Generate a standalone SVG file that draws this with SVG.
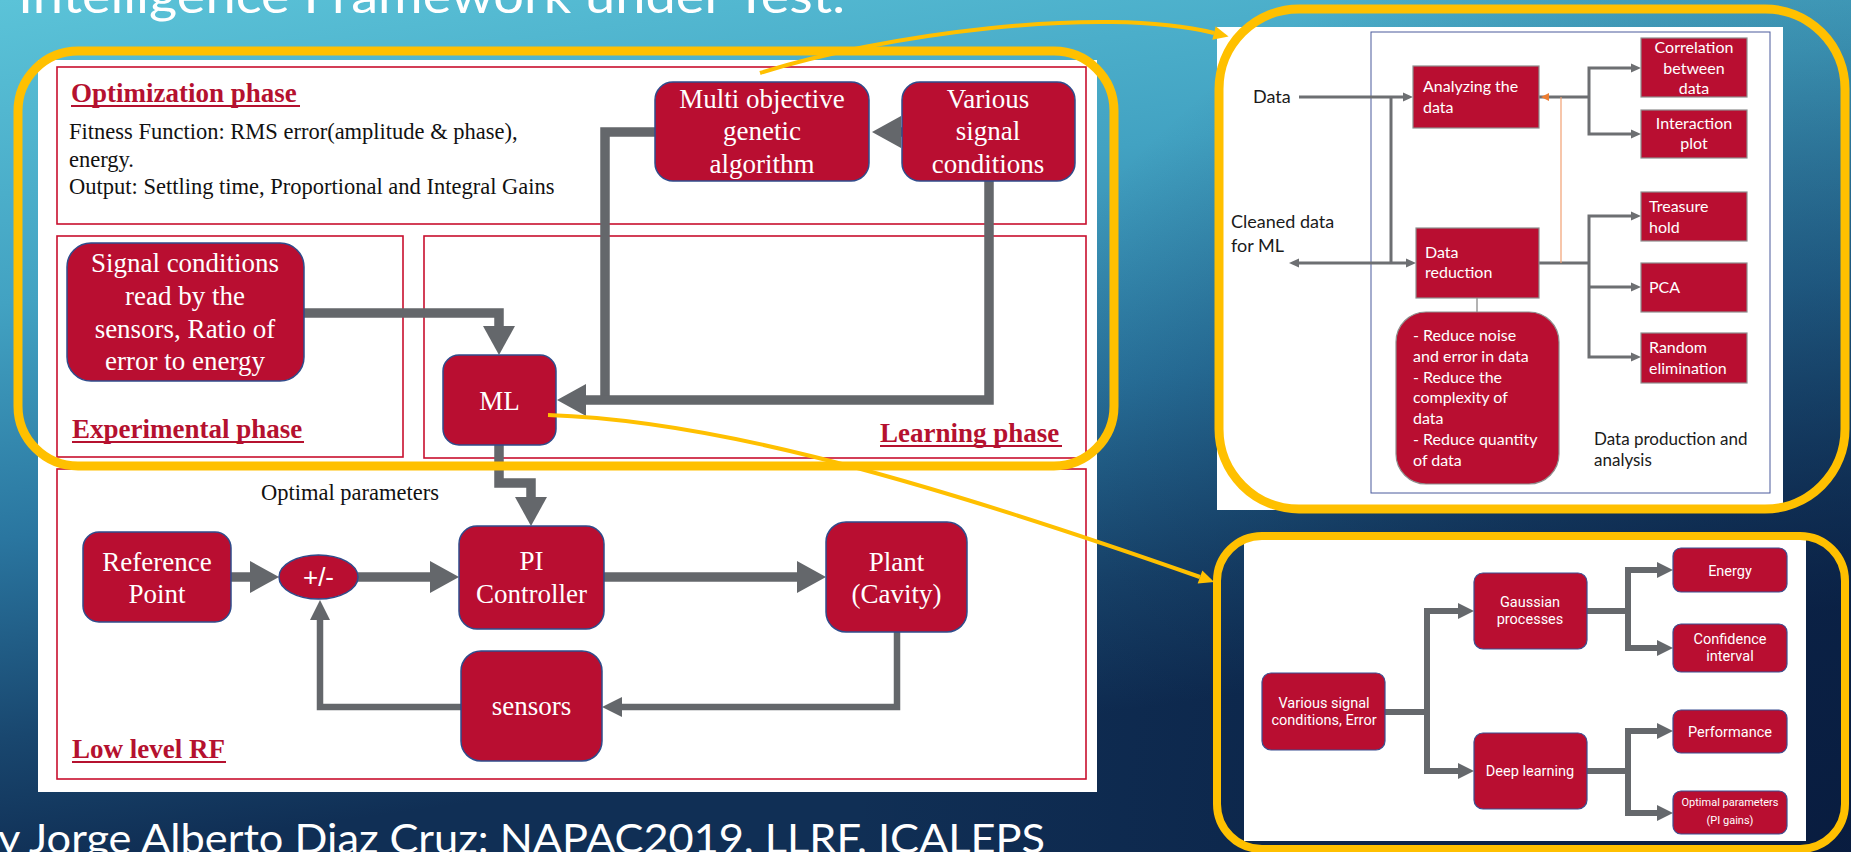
<svg xmlns="http://www.w3.org/2000/svg" width="1851" height="852" viewBox="0 0 1851 852">
  <defs>
    <linearGradient id="bg" gradientUnits="userSpaceOnUse" x1="0" y1="0" x2="120" y2="852">
      <stop offset="0" stop-color="#5BC3D8"/>
      <stop offset="0.35" stop-color="#42A2C2"/>
      <stop offset="0.62" stop-color="#2A76A0"/>
      <stop offset="0.85" stop-color="#19476F"/>
      <stop offset="1" stop-color="#102F55"/>
    </linearGradient>
    <radialGradient id="shade" gradientUnits="userSpaceOnUse" cx="1851" cy="852" r="1000">
      <stop offset="0" stop-color="#061638" stop-opacity="0.75"/>
      <stop offset="1" stop-color="#061638" stop-opacity="0"/>
    </radialGradient>
    <marker id="ahBig" markerUnits="userSpaceOnUse" markerWidth="30" markerHeight="32" refX="0" refY="16" orient="auto" overflow="visible">
      <path d="M0,0 L29,16 L0,32 z" fill="#64676B"/>
    </marker>
    <marker id="ahThin" markerUnits="userSpaceOnUse" markerWidth="20" markerHeight="20" refX="0" refY="10" orient="auto" overflow="visible">
      <path d="M0,0 L20,10 L0,20 z" fill="#64676B"/>
    </marker>
    <marker id="ahSm" markerUnits="userSpaceOnUse" markerWidth="10" markerHeight="10" refX="0" refY="4.5" orient="auto-start-reverse" overflow="visible">
      <path d="M0,0 L10,4.5 L0,9 z" fill="#6D6F72"/>
    </marker>
    <marker id="ahMed" markerUnits="userSpaceOnUse" markerWidth="16" markerHeight="16" refX="0" refY="8" orient="auto-start-reverse" overflow="visible">
      <path d="M0,0 L16,8 L0,16 z" fill="#65686C"/>
    </marker>
    <marker id="ahY" markerUnits="userSpaceOnUse" markerWidth="15" markerHeight="14" refX="0" refY="7" orient="auto" overflow="visible">
      <path d="M0,0 L15,7 L0,14 z" fill="#FFC000"/>
    </marker>
    <style>
      .frame { fill: none; stroke: #C8102E; stroke-width: 1.6; }
      .node { fill: #B90E31; stroke: #2F4C8C; stroke-width: 1.5; }
      .nt { font-family: "Liberation Serif", "Times New Roman", serif; font-size: 27px; fill: #ffffff; text-anchor: middle; }
      .head { font-family: "Liberation Serif", "Times New Roman", serif; font-weight: bold; font-size: 27px; fill: #B5112F; }
      .uline { stroke: #B5112F; stroke-width: 2.2; }
      .body { font-family: "Liberation Serif", "Times New Roman", serif; font-size: 22.5px; fill: #111111; }
      .conn { fill: none; stroke: #64676B; stroke-width: 9.5; stroke-linejoin: miter; }
      .thin { stroke-width: 6.5; }
      .yel { fill: none; stroke: #FFC000; }
      .rbox { fill: #B90E31; stroke: #8E8E8E; stroke-width: 1.2; }
      .rt { font-family: Lato, "Liberation Sans", sans-serif; font-size: 16px; fill: #ffffff; }
      .lbl { font-family: Lato, "Liberation Sans", sans-serif; font-size: 18px; fill: #1A1A1A; }
      .lbl.sm { font-size: 17px; }
      .rl { fill: none; stroke: #6D6F72; stroke-width: 3; }
      .bbox { fill: #B90E31; stroke: #3B4F91; stroke-width: 1.2; }
      .bt { font-family: Roboto, "Liberation Sans", sans-serif; font-size: 14.5px; fill: #ffffff; text-anchor: middle; }
      .bt.tiny { font-size: 11px; }
      .bl { fill: none; stroke: #65686C; stroke-width: 6; stroke-linejoin: miter; }
      .slide { font-family: Lato, "DejaVu Sans", sans-serif; fill: #ffffff; }
    </style>
  </defs>

  <!-- slide background -->
  <rect x="0" y="0" width="1851" height="852" fill="url(#bg)"/>
  <rect x="0" y="0" width="1851" height="852" fill="url(#shade)"/>

  <!-- slide title and footer -->
  <text class="slide" x="18" y="13" font-size="48" textLength="827" lengthAdjust="spacingAndGlyphs">Intelligence Framework under Test.</text>
  <text class="slide" x="-2" y="853" font-size="40" textLength="1047" lengthAdjust="spacingAndGlyphs">y Jorge Alberto Diaz Cruz: NAPAC2019, LLRF, ICALEPS</text>

  <!-- ===== left: control framework ===== -->
  <rect x="38" y="60" width="1059" height="732" fill="#ffffff"/>

  <g id="phase-frames">
    <rect class="frame" x="57" y="67" width="1029" height="157"/>
    <rect class="frame" x="57" y="236" width="346" height="221"/>
    <rect class="frame" x="424" y="236" width="662" height="222"/>
    <rect class="frame" x="57" y="469" width="1029" height="310"/>
  </g>

  <g id="phase-labels">
    <text class="head" x="71" y="102">Optimization phase</text>
    <line class="uline" x1="71" y1="106" x2="300" y2="106"/>
    <text class="head" x="72" y="438">Experimental phase</text>
    <line class="uline" x1="72" y1="442" x2="304" y2="442"/>
    <text class="head" x="880" y="442">Learning phase</text>
    <line class="uline" x1="880" y1="446" x2="1062" y2="446"/>
    <text class="head" x="72" y="758">Low level RF</text>
    <line class="uline" x1="72" y1="762" x2="226" y2="762"/>
  </g>

  <g id="optimization-notes">
    <text class="body" x="69" y="139">Fitness Function: RMS error(amplitude &amp; phase),</text>
    <text class="body" x="69" y="167">energy.</text>
    <text class="body" x="69" y="194">Output: Settling time, Proportional and Integral Gains</text>
    <text class="body" x="261" y="500">Optimal parameters</text>
  </g>

  <g id="connectors">
    <path class="conn" d="M304 313 H499 V326" marker-end="url(#ahBig)"/>
    <path class="conn" d="M904 132 H901" marker-end="url(#ahBig)"/>
    <path class="conn" d="M655 132 H605 V400"/>
    <path class="conn" d="M989 181 V400 H586" marker-end="url(#ahBig)"/>
    <path class="conn" d="M499 445 V483 H531 V497" marker-end="url(#ahBig)"/>
    <path class="conn" d="M231 577 H250" marker-end="url(#ahBig)"/>
    <path class="conn" d="M358 577 H430" marker-end="url(#ahBig)"/>
    <path class="conn" d="M604 577 H797" marker-end="url(#ahBig)"/>
    <path class="conn thin" d="M897 632 V707 H622" marker-end="url(#ahThin)"/>
    <path class="conn thin" d="M461 707 H320 V620" marker-end="url(#ahThin)"/>
  </g>

  <g id="node-signal-read">
    <rect class="node" x="67" y="243" width="237" height="138" rx="24"/>
    <text class="nt" x="185" y="272">Signal conditions</text>
    <text class="nt" x="185" y="305">read by the</text>
    <text class="nt" x="185" y="338">sensors, Ratio of</text>
    <text class="nt" x="185" y="370">error to energy</text>
  </g>
  <g id="node-ml">
    <rect class="node" x="443" y="355" width="113" height="90" rx="16"/>
    <text class="nt" x="499.5" y="410">ML</text>
  </g>
  <g id="node-moga">
    <rect class="node" x="655" y="82" width="214" height="99" rx="18"/>
    <text class="nt" x="762" y="108">Multi objective</text>
    <text class="nt" x="762" y="140">genetic</text>
    <text class="nt" x="762" y="173">algorithm</text>
  </g>
  <g id="node-various">
    <rect class="node" x="902" y="82" width="173" height="99" rx="18"/>
    <text class="nt" x="988" y="108">Various</text>
    <text class="nt" x="988" y="140">signal</text>
    <text class="nt" x="988" y="173">conditions</text>
  </g>
  <g id="node-reference">
    <rect class="node" x="83" y="532" width="148" height="90" rx="16"/>
    <text class="nt" x="157" y="571">Reference</text>
    <text class="nt" x="157" y="603">Point</text>
  </g>
  <g id="node-sum">
    <ellipse class="node" cx="318.5" cy="577" rx="39.5" ry="22"/>
    <text x="318.5" y="586" font-family="'Liberation Sans', Arial, sans-serif" font-size="26" fill="#ffffff" text-anchor="middle">+/-</text>
  </g>
  <g id="node-pi">
    <rect class="node" x="459" y="526" width="145" height="103" rx="18"/>
    <text class="nt" x="531.5" y="570">PI</text>
    <text class="nt" x="531.5" y="603">Controller</text>
  </g>
  <g id="node-plant">
    <rect class="node" x="826" y="522" width="141" height="110" rx="20"/>
    <text class="nt" x="896.5" y="571">Plant</text>
    <text class="nt" x="896.5" y="603">(Cavity)</text>
  </g>
  <g id="node-sensors">
    <rect class="node" x="461" y="651" width="141" height="110" rx="20"/>
    <text class="nt" x="531.5" y="715">sensors</text>
  </g>

  <!-- ===== top right: data production and analysis ===== -->
  <rect x="1217" y="27" width="566" height="483" fill="#ffffff"/>
  <rect x="1371" y="32" width="399" height="461" fill="none" stroke="#4A5A9C" stroke-width="1"/>

  <g id="data-connectors">
    <path class="rl" d="M1299 97 H1403" marker-end="url(#ahSm)"/>
    <path class="rl" d="M1391 97 V263"/>
    <path class="rl" d="M1299 263 H1406" marker-start="url(#ahSm)" marker-end="url(#ahSm)"/>
    <path class="rl" d="M1539 97 H1589"/>
    <path class="rl" d="M1631 68 H1589 V134 H1631" marker-start="url(#ahSm)" marker-end="url(#ahSm)"/>
    <path class="rl" d="M1539 263 H1589"/>
    <path class="rl" d="M1631 216 H1589 V357 H1631" marker-start="url(#ahSm)" marker-end="url(#ahSm)"/>
    <path class="rl" d="M1589 287 H1631" marker-end="url(#ahSm)"/>
    <path d="M1561 97 V263" stroke="#F2A072" stroke-width="1.2" fill="none"/>
    <path d="M1541 97 L1549 93 L1549 101 z" fill="#ED7D31"/>
    <path d="M1477 298 V312" stroke="#9A9A9A" stroke-width="1.5" fill="none"/>
  </g>

  <g id="label-data">
    <text class="lbl" x="1253" y="103">Data</text>
  </g>
  <g id="label-cleaned">
    <text class="lbl" x="1231" y="228">Cleaned data</text>
    <text class="lbl" x="1231" y="252">for ML</text>
  </g>
  <g id="node-analyzing">
    <rect class="rbox" x="1413" y="66" width="126" height="62"/>
    <text class="rt" x="1423" y="92">Analyzing the</text>
    <text class="rt" x="1423" y="113">data</text>
  </g>
  <g id="node-correlation">
    <rect class="rbox" x="1641" y="38" width="106" height="59"/>
    <text class="rt" x="1694" y="53" text-anchor="middle">Correlation</text>
    <text class="rt" x="1694" y="74" text-anchor="middle">between</text>
    <text class="rt" x="1694" y="94" text-anchor="middle">data</text>
  </g>
  <g id="node-interaction">
    <rect class="rbox" x="1641" y="110" width="106" height="48"/>
    <text class="rt" x="1694" y="129" text-anchor="middle">Interaction</text>
    <text class="rt" x="1694" y="149" text-anchor="middle">plot</text>
  </g>
  <g id="node-reduction">
    <rect class="rbox" x="1416" y="228" width="123" height="70"/>
    <text class="rt" x="1425" y="258">Data</text>
    <text class="rt" x="1425" y="278">reduction</text>
  </g>
  <g id="node-treasure">
    <rect class="rbox" x="1641" y="192" width="106" height="49"/>
    <text class="rt" x="1649" y="212">Treasure</text>
    <text class="rt" x="1649" y="233">hold</text>
  </g>
  <g id="node-pca">
    <rect class="rbox" x="1641" y="263" width="106" height="49"/>
    <text class="rt" x="1649" y="293">PCA</text>
  </g>
  <g id="node-random">
    <rect class="rbox" x="1641" y="333" width="106" height="50"/>
    <text class="rt" x="1649" y="353">Random</text>
    <text class="rt" x="1649" y="374">elimination</text>
  </g>
  <g id="node-reduce-goals">
    <rect class="rbox" x="1396" y="312" width="163" height="172" rx="30"/>
    <text class="rt" x="1413" y="341">- Reduce noise</text>
    <text class="rt" x="1413" y="362">and error in data</text>
    <text class="rt" x="1413" y="383">- Reduce the</text>
    <text class="rt" x="1413" y="403">complexity of</text>
    <text class="rt" x="1413" y="424">data</text>
    <text class="rt" x="1413" y="445">- Reduce quantity</text>
    <text class="rt" x="1413" y="466">of data</text>
  </g>
  <g id="label-production">
    <text class="lbl sm" x="1594" y="445">Data production and</text>
    <text class="lbl sm" x="1594" y="466">analysis</text>
  </g>

  <!-- ===== bottom right: learning methods ===== -->
  <rect x="1244" y="536" width="562" height="305" fill="#ffffff"/>

  <g id="learning-connectors">
    <path class="bl" d="M1385 712 H1427"/>
    <path class="bl" d="M1458 611 H1427 V771 H1458" marker-start="url(#ahMed)" marker-end="url(#ahMed)"/>
    <path class="bl" d="M1587 611 H1628"/>
    <path class="bl" d="M1657 570 H1628 V648 H1657" marker-start="url(#ahMed)" marker-end="url(#ahMed)"/>
    <path class="bl" d="M1587 771 H1628"/>
    <path class="bl" d="M1657 731 H1628 V813 H1657" marker-start="url(#ahMed)" marker-end="url(#ahMed)"/>
  </g>

  <g id="node-inputs">
    <rect class="bbox" x="1262" y="673" width="123" height="77" rx="9"/>
    <text class="bt" x="1324" y="708">Various signal</text>
    <text class="bt" x="1324" y="725">conditions, Error</text>
  </g>
  <g id="node-gaussian">
    <rect class="bbox" x="1474" y="573" width="113" height="76" rx="9"/>
    <text class="bt" x="1530" y="607">Gaussian</text>
    <text class="bt" x="1530" y="624">processes</text>
  </g>
  <g id="node-deep">
    <rect class="bbox" x="1474" y="733" width="113" height="76" rx="9"/>
    <text class="bt" x="1530" y="776">Deep learning</text>
  </g>
  <g id="node-energy">
    <rect class="bbox" x="1673" y="548" width="114" height="44" rx="8"/>
    <text class="bt" x="1730" y="576">Energy</text>
  </g>
  <g id="node-confidence">
    <rect class="bbox" x="1673" y="624" width="114" height="48" rx="8"/>
    <text class="bt" x="1730" y="644">Confidence</text>
    <text class="bt" x="1730" y="661">interval</text>
  </g>
  <g id="node-performance">
    <rect class="bbox" x="1673" y="710" width="114" height="43" rx="8"/>
    <text class="bt" x="1730" y="737">Performance</text>
  </g>
  <g id="node-optimal">
    <rect class="bbox" x="1673" y="791" width="114" height="43" rx="8"/>
    <text class="bt tiny" x="1730" y="806">Optimal parameters</text>
    <text class="bt tiny" x="1730" y="824">(PI gains)</text>
  </g>

  <!-- ===== highlight frames and callouts ===== -->
  <g id="highlights">
    <rect class="yel" x="18" y="51" width="1096" height="415" rx="60" stroke-width="9"/>
    <rect class="yel" x="1219" y="9" width="626" height="500" rx="80" stroke-width="9"/>
    <rect class="yel" x="1217" y="536" width="628" height="313" rx="45" stroke-width="8"/>
    <path class="yel" d="M760 73 C880 35, 1100 5, 1214 33" stroke-width="4" marker-end="url(#ahY)"/>
    <path class="yel" d="M548 415 C700 420, 890 468, 1200 577" stroke-width="4" marker-end="url(#ahY)"/>
  </g>
</svg>
